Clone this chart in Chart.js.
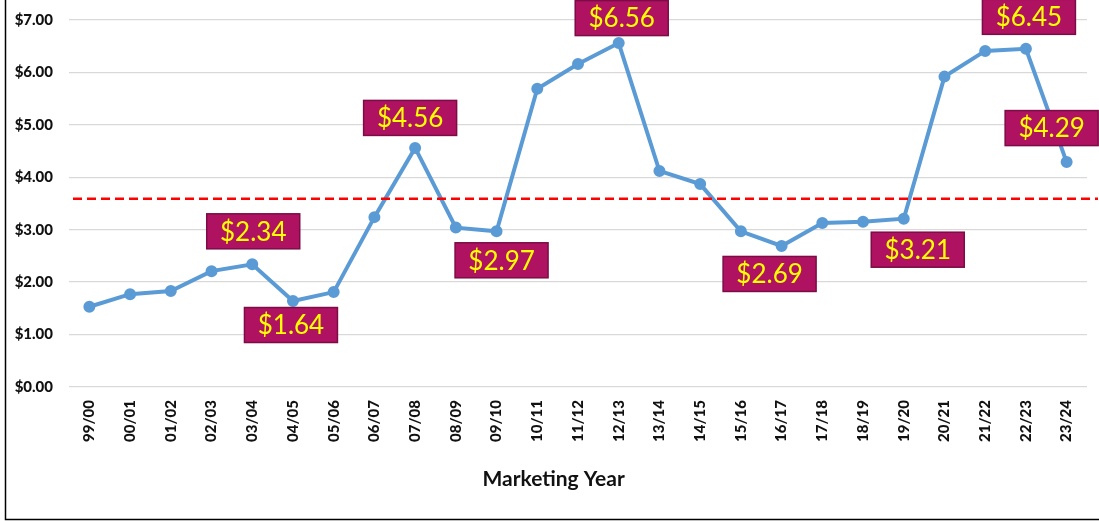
<!DOCTYPE html>
<html>
<head>
<meta charset="utf-8">
<script src="https://cdn.jsdelivr.net/npm/chart.js@4.4.1/dist/chart.umd.min.js"></script>
<style>
html,body{margin:0;padding:0;background:#fff;}
#wrap{position:absolute;left:0;top:0;width:1099px;height:521px;}
</style>
</head>
<body>
<div id="wrap"><canvas id="c" width="1099" height="521"></canvas></div>
<script>
// ---- data ----
const years = ['99/00','00/01','01/02','02/03','03/04','04/05','05/06','06/07','07/08','08/09','09/10','10/11','11/12','12/13','13/14','14/15','15/16','16/17','17/18','18/19','19/20','20/21','21/22','22/23','23/24'];
const prices = [1.53,1.77,1.83,2.21,2.34,1.64,1.81,3.24,4.56,3.04,2.97,5.69,6.16,6.56,4.12,3.87,2.97,2.69,3.13,3.15,3.21,5.92,6.41,6.45,4.29];
const averagePrice = 3.59;
const calloutYears = ['03/04','04/05','07/08','09/10','12/13','16/17','19/20','22/23','23/24'];
const yTicks = [0,1,2,3,4,5,6,7];
const xTitle = 'Marketing Year';

// ---- styling (placement of callouts relative to their points) ----
const calloutOffsets = {
  '03/04':[1,-33], '04/05':[-2,24], '07/08':[-5,-30], '09/10':[5,29],
  '12/13':[3,-25], '16/17':[-12,28], '19/20':[14,31], '22/23':[3,-32], '23/24':[-15,-34]
};

const frame = {
  id:'frame',
  afterDraw(chart){
    const ctx = chart.ctx;
    ctx.save();
    ctx.strokeStyle = '#000';
    ctx.lineWidth = 1.5;
    ctx.beginPath();
    ctx.moveTo(5.5,0); ctx.lineTo(5.5,519.5); ctx.lineTo(1099,519.5);
    ctx.stroke();
    ctx.restore();
  }
};

const avgLine = {
  id:'avgLine',
  afterDatasetsDraw(chart){
    const ctx = chart.ctx;
    const y = chart.scales.y.getPixelForValue(averagePrice);
    ctx.save();
    ctx.strokeStyle = '#FF0000';
    ctx.lineWidth = 2.5;
    ctx.setLineDash([9,5]);
    ctx.beginPath();
    ctx.moveTo(chart.chartArea.left + 4, y);
    ctx.lineTo(1098, y);
    ctx.stroke();
    ctx.restore();
  }
};

const callouts = {
  id:'callouts',
  afterDraw(chart){
    const ctx = chart.ctx;
    const meta = chart.getDatasetMeta(0);
    ctx.save();
    ctx.font = '26px Lato';
    ctx.textAlign = 'center';
    ctx.textBaseline = 'middle';
    calloutYears.forEach(yr => {
      const i = years.indexOf(yr);
      const pt = meta.data[i];
      const off = calloutOffsets[yr];
      const cx = pt.x + off[0], cy = pt.y + off[1];
      const w = 93, h = 35;
      ctx.fillStyle = '#B01262';
      ctx.fillRect(cx - w/2, cy - h/2, w, h);
      ctx.strokeStyle = '#7C0C45';
      ctx.lineWidth = 1.5;
      ctx.strokeRect(cx - w/2, cy - h/2, w, h);
      ctx.fillStyle = '#FFFF00';
      ctx.fillText('$' + prices[i].toFixed(2), cx, cy + 1);
    });
    ctx.restore();
  }
};

const axisTitle = {
  id:'axisTitle',
  afterDraw(chart){
    const ctx = chart.ctx;
    const a = chart.chartArea;
    ctx.save();
    ctx.font = 'bold 21px Lato';
    ctx.fillStyle = '#111';
    ctx.textAlign = 'center';
    ctx.textBaseline = 'middle';
    ctx.fillText(xTitle, a.left + (a.right - a.left) * 0.476, 479);
    ctx.restore();
  }
};

new Chart(document.getElementById('c'), {
  type:'line',
  data:{
    labels: years,
    datasets:[{
      data: prices,
      borderColor:'#5B9BD5',
      backgroundColor:'#5B9BD5',
      borderWidth:4,
      pointRadius:4,
      pointBackgroundColor:'#5B9BD5',
      pointBorderColor:'#5B9BD5',
      tension:0,
      fill:false
    }]
  },
  options:{
    responsive:false,
    animation:false,
    events:[],
    layout:{padding:{left:0,top:20,right:12,bottom:0}},
    plugins:{legend:{display:false},tooltip:{enabled:false},title:{display:false}},
    scales:{
      x:{
        type:'category',
        offset:true,
        grid:{display:false,drawTicks:false},
        border:{display:false},
        ticks:{
          minRotation:90,maxRotation:90,autoSkip:false,padding:13,
          color:'#111',
          font:{family:'Lato',size:15,weight:'900'}
        },
        afterFit(s){ s.height = 134; }
      },
      y:{
        min:0,max:7,
        afterBuildTicks(s){ s.ticks = yTicks.map(v => ({value:v})); },
        grid:{color:'#D9D9D9',lineWidth:1.3,drawTicks:false},
        border:{display:false},
        ticks:{
          padding:16,
          color:'#111',
          font:{family:'Lato',size:15,weight:'900'},
          callback:v => '$' + Number(v).toFixed(2)
        },
        afterFit(s){ s.width = 69; s.paddingTop = 0; s.paddingBottom = 0; }
      }
    }
  },
  plugins:[frame, avgLine, callouts, axisTitle]
});
</script>
</body>
</html>
